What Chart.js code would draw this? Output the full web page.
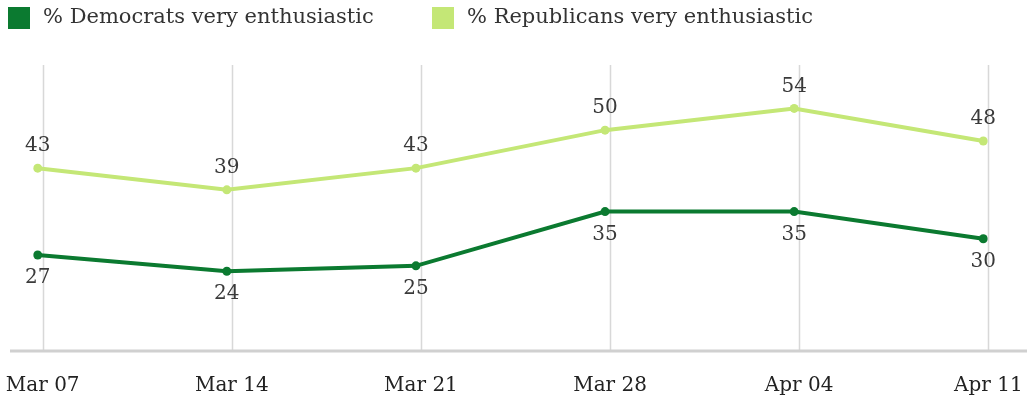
<!DOCTYPE html>
<html><head><meta charset="utf-8">
<script src="https://cdn.jsdelivr.net/npm/chart.js@4"></script>
<style>html,body{margin:0;padding:0;background:#fff}#wrap{width:1027px;height:402px}</style>
</head><body><div id="wrap"><canvas id="c"></canvas></div>
<script>
const categories = ["Mar 07", "Mar 14", "Mar 21", "Mar 28", "Apr 04", "Apr 11"];
const democrats = [27, 24, 25, 35, 35, 30];
const republicans = [43, 39, 43, 50, 54, 48];
const seriesNames = ["% Democrats very enthusiastic", "% Republicans very enthusiastic"];
const DARK = "#0b7a30", LIGHT = "#c4e776";
const FONT = "'DejaVu Serif', 'Liberation Serif', serif";

const extras = {
  id: 'extras',
  beforeDatasetsDraw(chart) {
    const ctx = chart.ctx, x = chart.scales.x, a = chart.chartArea;
    ctx.save();
    ctx.strokeStyle = '#d8d8d8';
    ctx.lineWidth = 1.5;
    categories.forEach((c, i) => {
      const px = Math.round(x.getPixelForValue(i)) + 5.5;
      ctx.beginPath(); ctx.moveTo(px, a.top); ctx.lineTo(px, a.bottom); ctx.stroke();
    });
    ctx.strokeStyle = '#d0d0d0';
    ctx.lineWidth = 3;
    ctx.beginPath(); ctx.moveTo(10, a.bottom + 1); ctx.lineTo(chart.width, a.bottom + 1); ctx.stroke();
    ctx.restore();
  },
  afterDatasetsDraw(chart) {
    const ctx = chart.ctx;
    ctx.save();
    ctx.font = "20px " + FONT;
    ctx.fillStyle = '#3a3a3a';
    ctx.textAlign = 'center';
    ctx.textBaseline = 'middle';
    chart.data.datasets.forEach((ds, di) => {
      const meta = chart.getDatasetMeta(di);
      meta.data.forEach((pt, i) => {
        const dy = di === 0 ? 23 : -22;
        ctx.fillText(String(ds.data[i]), pt.x, pt.y + dy);
      });
    });
    // legend
    const boxX = [8, 432];
    ctx.textAlign = 'left';
    ctx.font = "21px " + FONT;
    chart.data.datasets.forEach((ds, di) => {
      ctx.fillStyle = ds.borderColor;
      ctx.fillRect(boxX[di], 7, 22, 22);
      ctx.fillStyle = '#333';
      ctx.fillText(ds.label, boxX[di] + 35, 18);
    });
    ctx.restore();
  }
};

new Chart(document.getElementById('c'), {
  type: 'line',
  data: {
    labels: categories,
    datasets: [
      { label: seriesNames[0], data: democrats, borderColor: DARK, backgroundColor: DARK,
        borderWidth: 4, pointRadius: 4.5, pointBackgroundColor: DARK, pointBorderWidth: 0, tension: 0 },
      { label: seriesNames[1], data: republicans, borderColor: LIGHT, backgroundColor: LIGHT,
        borderWidth: 4, pointRadius: 4.5, pointBackgroundColor: LIGHT, pointBorderWidth: 0, tension: 0 }
    ]
  },
  options: {
    responsive: true, maintainAspectRatio: false, animation: false,
    layout: { padding: { left: 37.7, right: 43.7, top: 65, bottom: 0 } },
    plugins: {
      legend: { display: false },
      tooltip: { enabled: false }
    },
    scales: {
      x: {
        offset: false,
        grid: { display: false, drawTicks: false },
        border: { display: false },
        afterFit(scale) { scale.paddingLeft = 0; scale.paddingRight = 0; scale.height = 52; },
        ticks: { labelOffset: 5, padding: 24, color: '#222', font: { family: FONT, size: 20 }, maxRotation: 0, autoSkip: false }
      },
      y: { display: false, min: 9.5, max: 62 }
    }
  },
  plugins: [extras]
});
</script></body></html>
